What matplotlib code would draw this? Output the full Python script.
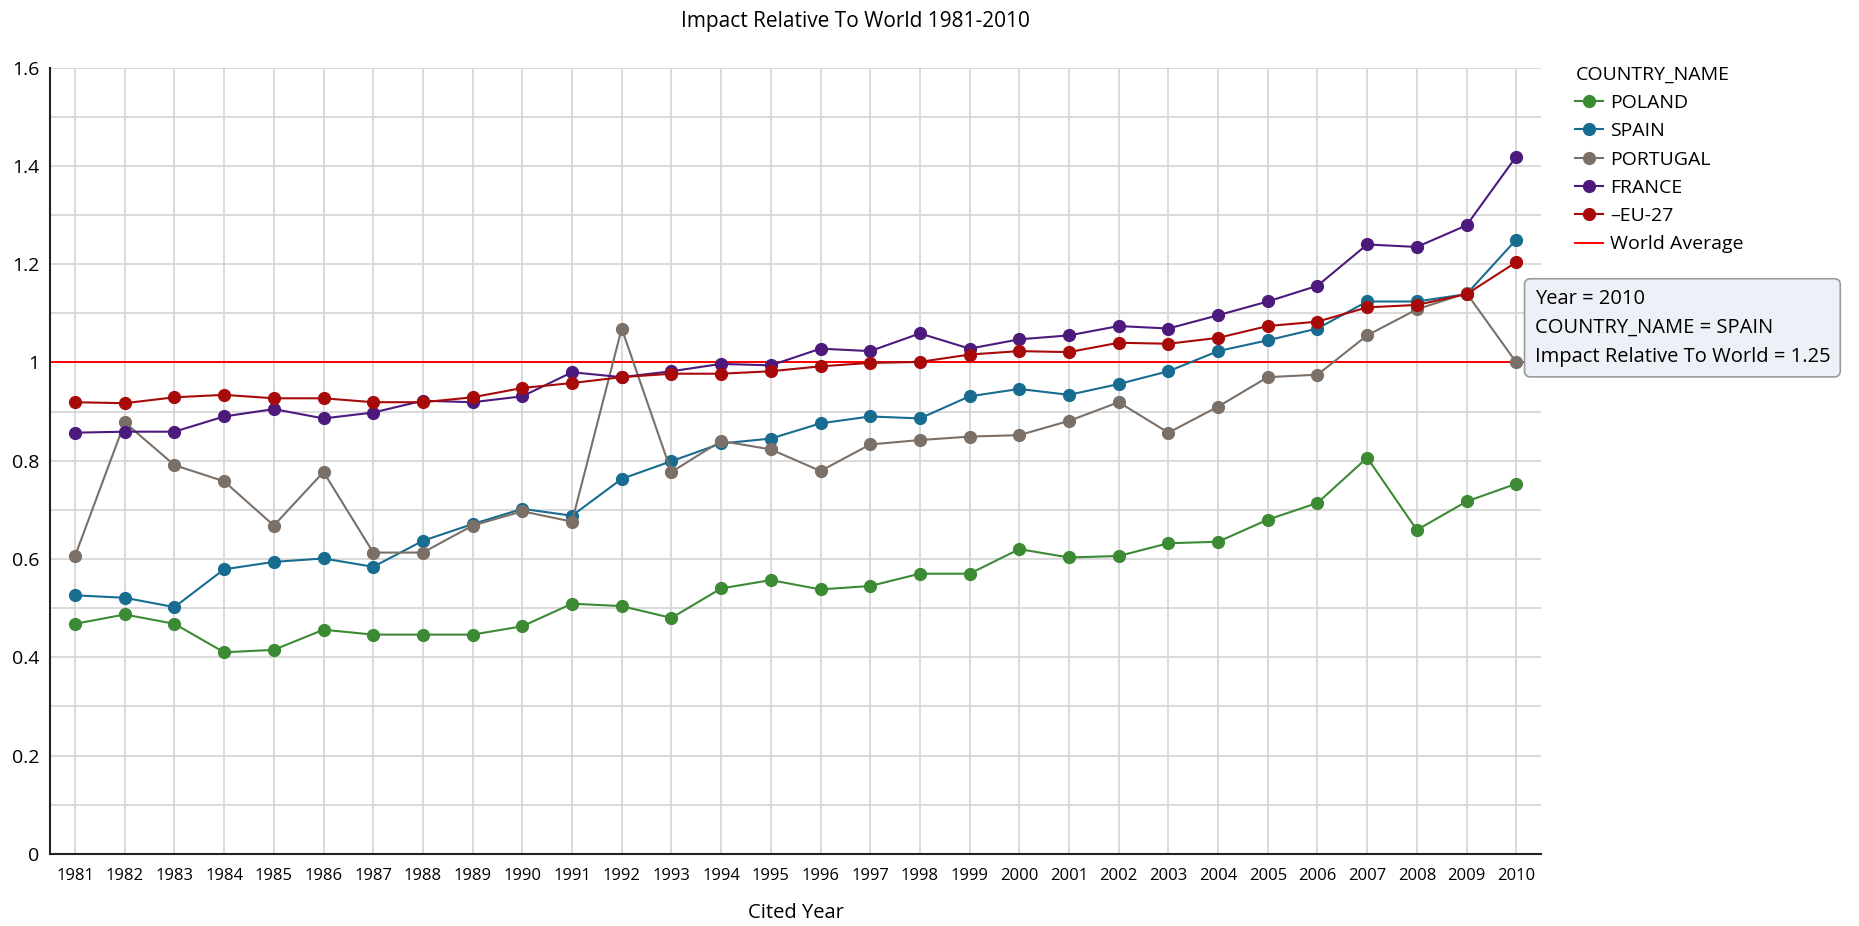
import numpy as np
import matplotlib
matplotlib.use('Agg')
import matplotlib.pyplot as plt
from matplotlib.ticker import MultipleLocator

plt.rcParams['font.family'] = ['Open Sans', 'DejaVu Sans']

years = list(range(1981, 2011))

poland = [0.468, 0.487, 0.468, 0.410, 0.415, 0.456, 0.446, 0.446, 0.446, 0.463,
          0.509, 0.504, 0.480, 0.540, 0.557, 0.538, 0.545, 0.570, 0.570, 0.620,
          0.603, 0.606, 0.632, 0.635, 0.680, 0.714, 0.806, 0.659, 0.717, 0.753]
spain = [0.526, 0.521, 0.502, 0.579, 0.594, 0.601, 0.584, 0.637, 0.671, 0.702,
         0.688, 0.763, 0.799, 0.835, 0.845, 0.876, 0.890, 0.886, 0.931, 0.946,
         0.934, 0.956, 0.982, 1.023, 1.045, 1.069, 1.124, 1.124, 1.139, 1.25]
portugal = [0.606, 0.878, 0.791, 0.758, 0.668, 0.777, 0.613, 0.613, 0.668, 0.697,
            0.676, 1.069, 0.777, 0.840, 0.823, 0.779, 0.833, 0.842, 0.849, 0.852,
            0.881, 0.919, 0.857, 0.910, 0.970, 0.975, 1.055, 1.108, 1.141, 1.0]
france = [0.857, 0.859, 0.859, 0.890, 0.905, 0.886, 0.898, 0.922, 0.919, 0.931,
          0.980, 0.970, 0.982, 0.997, 0.994, 1.028, 1.023, 1.059, 1.028, 1.047,
          1.055, 1.074, 1.069, 1.096, 1.124, 1.156, 1.240, 1.235, 1.279, 1.419]
eu27 = [0.919, 0.917, 0.929, 0.934, 0.927, 0.927, 0.919, 0.919, 0.929, 0.948,
        0.958, 0.970, 0.977, 0.977, 0.982, 0.992, 0.999, 1.001, 1.016, 1.023,
        1.021, 1.040, 1.038, 1.050, 1.074, 1.083, 1.112, 1.117, 1.139, 1.204]
world_avg = 1.0
y_ticks = [0, 0.2, 0.4, 0.6, 0.8, 1.0, 1.2, 1.4, 1.6]
y_ticklabels = ['0', '0.2', '0.4', '0.6', '0.8', '1', '1.2', '1.4', '1.6']

series = [('POLAND', poland, '#3c8a33'),
          ('SPAIN', spain, '#176c90'),
          ('PORTUGAL', portugal, '#7b7068'),
          ('FRANCE', france, '#4c1a7c'),
          ('\u2013EU-27', eu27, '#a80a0a')]

fig = plt.figure(figsize=(18.59, 9.26), dpi=100)
ax = fig.add_axes([0.027, 0.078, 0.802, 0.849])

ax.axhline(world_avg, color='#ff0000', lw=1.4, zorder=2, label='World Average')
for name, vals, col in series:
    ax.plot(years, vals, '-o', color=col, lw=1.5, ms=8.5, label=name, zorder=3)

ax.set_xlim(1980.5, 2010.5)
ax.set_ylim(0, 1.6)
ax.set_xticks(years)
ax.set_xticklabels([str(y) for y in years], fontsize=12)
ax.set_yticks(y_ticks)
ax.set_yticklabels(y_ticklabels)
ax.yaxis.set_minor_locator(MultipleLocator(0.1))
ax.tick_params(axis='y', labelsize=14, length=0, pad=8)
ax.tick_params(axis='y', which='minor', length=0)
ax.tick_params(axis='x', length=0, pad=10)
ax.grid(True, which='both', color='#d4d4d4', lw=1.2, zorder=0)
ax.set_axisbelow(True)
for s in ['top', 'right']:
    ax.spines[s].set_visible(False)
for s in ['left', 'bottom']:
    ax.spines[s].set_linewidth(1.5)
    ax.spines[s].set_color('#222222')

ax.set_xlabel('Cited Year', fontsize=14.5, labelpad=14)

fig.text(0.46, 0.977, 'Impact Relative To World 1981-2010', ha='center', va='center', fontsize=15)

# legend: country series first, world average last
handles, labels = ax.get_legend_handles_labels()
order = [1, 2, 3, 4, 5, 0]
leg = fig.legend([handles[i] for i in order], [labels[i] for i in order],
                 loc='upper left', bbox_to_anchor=(0.838, 0.948), frameon=False,
                 title='COUNTRY_NAME', fontsize=14, title_fontsize=14,
                 handlelength=1.4, handletextpad=0.4, labelspacing=0.53,
                 alignment='left')

# hover tooltip
fig.text(0.8255, 0.646, 'Year = 2010\nCOUNTRY_NAME = SPAIN\nImpact Relative To World = 1.25',
         ha='left', va='center', fontsize=14.5, linespacing=1.6,
         bbox=dict(boxstyle='round,pad=0.5,rounding_size=0.3', facecolor='#eef0f7',
                   edgecolor='#9a9a9a', lw=1.2))

fig.savefig('out.png', dpi=100)
